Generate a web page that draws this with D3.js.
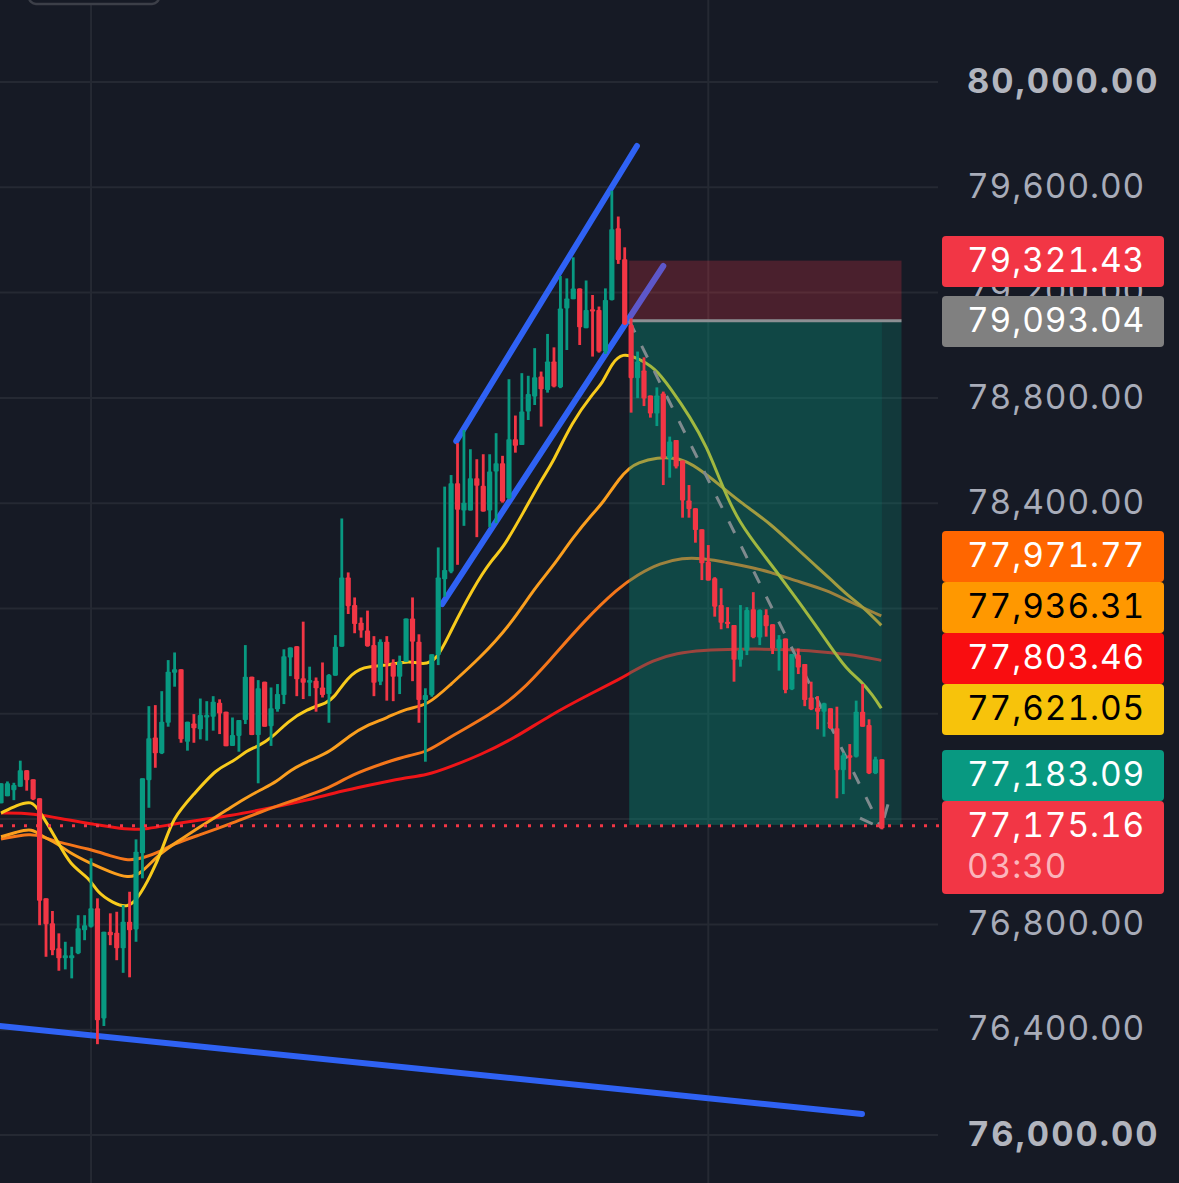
<!DOCTYPE html>
<html>
<head>
<meta charset="utf-8">
<script src="https://cdn.jsdelivr.net/npm/d3@7"></script>
<style>
  html, body { margin: 0; padding: 0; background: #161a25; overflow: hidden; }
  text { font-family: Inter, "Liberation Sans", sans-serif; font-variant-numeric: tabular-nums; }
</style>
</head>
<body>
<div id="chart"></div>
<script>
// Candle data
const opens = [77260,77287,77310,77323,77386,77351,77279,76899,76804,76709,
  76671,76671,76690,76778,76791,76861,76443,76772,76768,76709,
  76810,76781,77070,77348,77510,77450,77566,77756,77769,77494,
  77563,77541,77586,77589,77642,77608,77478,77516,77576,77741,
  77519,77722,77553,77617,77671,77814,77857,77735,77718,77726,
  77700,77675,77745,77855,78118,78013,77946,77916,77861,77722,
  77874,77792,77741,77798,77962,77874,77652,77671,77823,78111,
  78140,78476,78372,78372,78495,78466,78372,78520,78552,78419,
  78643,78621,78748,78805,78881,78830,78938,78840,79140,79175,
  79216,79065,79137,79134,78976,79172,79444,79327,79077,78875,
  78904,78809,78741,78817,78571,78640,78562,78410,78381,78301,
  78178,78115,78013,77950,77937,77805,77840,77997,77890,77975,
  77940,77848,77886,77693,77823,77789,77662,77623,77608,77621,
  77545,77386,77443,77437,77608,77557,77374,77427];
const highs = [77336,77343,77338,77422,77386,77351,77279,76899,76851,76766,
  76734,76715,76835,76835,77051,76899,76772,76842,76848,76873,
  76924,77123,77355,77629,77633,77686,77804,77833,77769,77570,
  77599,77658,77648,77667,77655,77608,77586,77576,77861,77741,
  77728,77722,77700,77713,77845,77852,77857,77950,77779,77738,
  77795,77751,77899,78342,78137,78042,77966,77992,77895,77883,
  77895,77807,77821,77962,78042,77902,77697,77826,78232,78463,
  78507,78628,78678,78605,78567,78586,78586,78666,78580,78871,
  78733,78894,78884,78989,78900,79043,78992,79263,79254,79334,
  79216,79246,79191,79147,79216,79587,79489,79372,79102,78976,
  78954,78809,78840,78824,78653,78640,78562,78469,78381,78301,
  78241,78119,78077,78005,77937,78013,78005,78062,77997,77997,
  77940,77899,77886,77827,77848,77789,77722,77667,77642,77621,
  77627,77452,77485,77650,77713,77579,77437,77427];
const lows = [77260,77287,77272,77323,77308,77272,76797,76677,76683,76624,
  76629,76595,76687,76740,76788,76345,76414,76721,76664,76616,
  76599,76734,76975,77243,77395,77447,77551,77703,77490,77460,
  77490,77503,77498,77536,77523,77477,77478,77456,77561,77519,
  77336,77551,77478,77608,77637,77743,77667,77656,77667,77608,
  77662,77566,77745,77855,77979,77906,77889,77855,77667,77709,
  77650,77648,77675,77798,77724,77566,77418,77665,77785,78045,
  78134,78166,78314,78372,78271,78368,78309,78324,78402,78415,
  78592,78621,78716,78773,78691,78820,78840,78837,78982,79175,
  79001,79065,78957,78972,78967,79170,79309,79077,78744,78799,
  78769,78725,78693,78469,78497,78532,78345,78345,78250,78108,
  78106,77969,77921,77925,77722,77779,77823,77887,77861,77893,
  77827,77764,77678,77690,77751,77629,77614,77541,77513,77542,
  77279,77295,77351,77434,77551,77371,77371,77161];
const closes = [77336,77336,77330,77386,77348,77275,76890,76801,76702,76671,
  76683,76683,76785,76797,76861,76436,76772,76759,76709,76810,
  76778,77076,77355,77507,77450,77570,77760,77769,77503,77570,
  77545,77595,77595,77646,77601,77477,77519,77576,77741,77519,
  77697,77551,77621,77675,77819,77852,77731,77718,77728,77697,
  77671,77747,77855,78118,78009,77941,77916,77857,77718,77874,
  77792,77741,77798,77962,77874,77652,77671,77826,78118,78146,
  78476,78375,78402,78495,78466,78368,78520,78552,78406,78643,
  78618,78748,78815,78878,78833,78938,78843,79140,79178,79216,
  79068,79134,79128,78976,79172,79441,79324,79081,78875,78938,
  78798,78741,78809,78571,78634,78539,78410,78378,78298,78172,
  78106,78007,77946,77941,77805,77842,77994,77891,77994,77933,
  77848,77883,77690,77827,77776,77652,77617,77608,77640,77545,
  77386,77443,77433,77608,77551,77374,77427,77165];

// Moving averages as [bar index, price]
const maYellow = [[0,77223],[2.5,77254],[4.8,77270],[5.9,77235],[8.7,77121],[10.7,77026],[13.8,76976],[14.9,76923],
  [17.4,76881],[19.8,76862],[21.3,76900],[23.2,76980],[25.2,77090],[26.7,77204],[29.9,77292],[33.6,77394],
  [36.1,77417],[38.3,77462],[39.8,77474],[42.3,77512],[44.5,77569],[47.6,77618],[50.7,77641],[51.9,77664],
  [53.8,77736],[56.3,77782],[60,77782],[63.6,77804],[65.6,77785],[67.8,77804],[69.8,77907],[73.4,78078],
  [76.5,78192],[77.9,78222],[81.2,78363],[84.3,78500],[85.8,78553],[88.8,78708],[92.1,78819],[93.6,78857],
  [95,78933],[96.7,78971],[98.9,78952],[101.7,78914],[104,78841],[107.2,78727],[109.8,78613],[111.8,78488],
  [114.6,78329],[119.6,78173],[121.6,78108],[126.9,77930],[128.6,77869],[131.6,77766],[133.6,77728],[135.6,77671],[136.9,77621]];
const maAmber = [[0,77133],[2.5,77151],[4.8,77166],[6.5,77132],[8.7,77109],[10.7,77071],[13.8,77033],[17,76999],
  [19.8,76976],[21.6,76988],[24.7,77071],[27.4,77113],[30.9,77170],[35.6,77242],[37.6,77273],[40.3,77311],
  [42.9,77341],[44.9,77386],[48.1,77424],[51.2,77455],[54.3,77519],[56.9,77557],[60,77584],[63.1,77622],
  [66.3,77630],[69.8,77709],[74.5,77812],[79.2,77937],[83,78078],[85.8,78158],[89,78272],[92.1,78363],
  [93.6,78401],[96.3,78500],[97.8,78534],[98.9,78553],[102,78575],[105.6,78572],[108.2,78537],[111.8,78469],
  [114.9,78405],[119.6,78325],[124.3,78215],[129.2,78108],[131.6,78051],[134.1,78006],[136.9,77936]];
const maOrange = [[0,77124],[4.8,77147],[6.5,77132],[8.7,77113],[13.8,77086],[17,77060],[19.8,77041],[22.1,77052],
  [24.7,77075],[26.7,77105],[30.9,77140],[35.6,77181],[40.3,77227],[45.7,77273],[51.2,77318],[54.3,77367],
  [60,77417],[63.6,77443],[66.3,77455],[69.8,77512],[76,77595],[80.7,77679],[85.4,77804],[90.8,77956],
  [96,78078],[98.9,78127],[102.5,78173],[106.1,78192],[108.7,78192],[113.4,78173],[117,78154],
  [119.6,78139],[123.2,78108],[128.5,78070],[132,78025],[136.9,77972]];
const maRed = [[0,77223],[5,77223],[10.3,77197],[14.3,77181],[19.6,77159],[22.7,77162],[26.7,77181],[30.9,77197],
  [35.6,77212],[41.8,77242],[49.1,77280],[52.3,77303],[57.4,77330],[62.5,77356],[66.3,77367],[69.8,77398],
  [74.5,77443],[79.9,77508],[85.4,77595],[91.6,77675],[96.3,77733],[97.8,77755],[101.4,77804],[105.1,77831],
  [109.2,77842],[113.8,77846],[123.2,77846],[129.4,77831],[133.6,77820],[136.9,77803]];

// Hand drawn trend lines
const trendUpper = [[70.8,78636],[98.9,79757]];
const trendLower = [[68.6,78017],[103,79301]];
const trendBottom = [[-0.2,76414],[133.9,76080]];
const projection = [[97.7,79093],[136.9,77166]];
const projectionHead = [[133.6,77204],[136.9,77166],[138,77261]];

// Position box
const boxStart = 97.7;
const boxFilledEnd = 137;
const boxEnd = 140.05;
const stopPrice = 79321.43;
const entryPrice = 79093.04;
const targetPrice = 77178;

// Right axis and price tags
const tickPrices = [80000,79600,79200,78800,78400,78000,77600,77200,76800,76400,76000];
const boldTicks = [80000,76000];
const gridBars = [14,110];
const tagPrices = [79321.43,79093.04,77971.77,77936.31,77803.46,77621.05,77183.09,77175.16];
const tagColors = ["#f23645","#808080","#ff6600","#ff9800","#f90d10","#f7c30b","#089981","#f23645"];
const tagTextColors = ["#fff","#fff","#fff","#000","#fff","#000","#fff","#fff"];
const lastPrice = 77175.16;
const countdown = "03:30";

const width = 1179;
const height = 1183;

let x = d3.scaleLinear().domain([0, 137]).range([1, 881.9]);
let y = d3.scaleLinear().domain([76000, 80000]).range([1135, 82]);

let svg = d3.select("#chart")
  .append("svg")
  .attr("width", width)
  .attr("height", height)
  .style("display", "block");

svg.append("rect")
  .attr("width", width)
  .attr("height", height)
  .attr("fill", "#161a25");

// Grid
const gridColor = "#252933";
svg.selectAll(".hgrid")
  .data(tickPrices)
  .enter().append("line")
  .attr("x1", 0)
  .attr("x2", 938)
  .attr("y1", d => y(d))
  .attr("y2", d => y(d))
  .attr("stroke", gridColor)
  .attr("stroke-width", 2);

svg.selectAll(".vgrid")
  .data(gridBars)
  .enter().append("line")
  .attr("x1", d => x(d))
  .attr("x2", d => x(d))
  .attr("y1", 0)
  .attr("y2", height)
  .attr("stroke", gridColor)
  .attr("stroke-width", 2);

// Cut off toolbar button at the very top
svg.append("rect")
  .attr("x", 29)
  .attr("y", -30)
  .attr("width", 130)
  .attr("height", 34)
  .attr("rx", 7)
  .attr("fill", "#161a25")
  .attr("stroke", "#3c3f48")
  .attr("stroke-width", 2.5);

// Moving averages
let maLine = d3.line()
  .x(d => x(d[0]))
  .y(d => y(d[1]))
  .curve(d3.curveBasis);

function drawMa(points, color) {
  svg.append("path")
    .attr("d", maLine(points))
    .attr("fill", "none")
    .attr("stroke", color)
    .attr("stroke-width", 3)
    .attr("stroke-linejoin", "round");
}
drawMa(maRed, "#f01518");
drawMa(maOrange, "#f5761a");
drawMa(maAmber, "#fb9f1e");
drawMa(maYellow, "#f8cb1c");

// Trend lines
let straight = d3.line().x(d => x(d[0])).y(d => y(d[1]));

[trendUpper, trendLower, trendBottom].forEach(points => {
  svg.append("path")
    .attr("d", straight(points))
    .attr("fill", "none")
    .attr("stroke", "#2f62f4")
    .attr("stroke-width", 6)
    .attr("stroke-linecap", "round");
});

// Position box sits over the lines, under the candles
svg.append("rect")
  .attr("x", x(boxStart))
  .attr("width", x(boxEnd) - x(boxStart))
  .attr("y", y(stopPrice))
  .attr("height", y(entryPrice) - y(stopPrice))
  .attr("fill", "#f23645")
  .attr("fill-opacity", 0.24);

svg.append("rect")
  .attr("x", x(boxStart))
  .attr("width", x(boxEnd) - x(boxStart))
  .attr("y", y(entryPrice))
  .attr("height", y(targetPrice) - y(entryPrice))
  .attr("fill", "#089981")
  .attr("fill-opacity", 0.25);

svg.append("rect")
  .attr("x", x(boxStart))
  .attr("width", x(boxFilledEnd) - x(boxStart))
  .attr("y", y(entryPrice))
  .attr("height", y(targetPrice) - y(entryPrice))
  .attr("fill", "#089981")
  .attr("fill-opacity", 0.15);

svg.append("line")
  .attr("x1", x(boxStart))
  .attr("x2", x(boxEnd))
  .attr("y1", y(entryPrice))
  .attr("y2", y(entryPrice))
  .attr("stroke", "#8c8f93")
  .attr("stroke-width", 3);

// Projected path with arrow head
svg.append("path")
  .attr("d", straight(projection))
  .attr("fill", "none")
  .attr("stroke", "#7f8a8e")
  .attr("stroke-width", 3)
  .attr("stroke-dasharray", "13 15");

svg.append("path")
  .attr("d", straight(projectionHead))
  .attr("fill", "none")
  .attr("stroke", "#7f8a8e")
  .attr("stroke-width", 3)
  .attr("stroke-dasharray", "14 10 0 10 14");

// Candles
const upColor = "#089981";
const downColor = "#f23645";
const bars = d3.range(opens.length);

svg.selectAll(".wick")
  .data(bars)
  .enter().append("line")
  .attr("x1", i => x(i))
  .attr("x2", i => x(i))
  .attr("y1", i => y(highs[i]))
  .attr("y2", i => y(lows[i]))
  .attr("stroke", i => closes[i] >= opens[i] ? upColor : downColor)
  .attr("stroke-width", 2.8);

svg.selectAll(".body")
  .data(bars)
  .enter().append("rect")
  .attr("x", i => x(i) - 2.6)
  .attr("width", 5.2)
  .attr("y", i => y(Math.max(opens[i], closes[i])))
  .attr("height", i => Math.max(2, Math.abs(y(opens[i]) - y(closes[i]))))
  .attr("rx", 0.8)
  .attr("fill", i => closes[i] >= opens[i] ? upColor : downColor);

// Last price dotted line
svg.append("line")
  .attr("x1", 0)
  .attr("x2", 942)
  .attr("y1", y(lastPrice))
  .attr("y2", y(lastPrice))
  .attr("stroke", "#f23645")
  .attr("stroke-width", 3)
  .attr("stroke-dasharray", "3 9");

// Price axis
let axis = d3.axisRight(y)
  .tickValues(tickPrices)
  .tickSize(0)
  .tickPadding(0)
  .tickFormat(d3.format(",.2f"));

let axisGroup = svg.append("g")
  .attr("transform", "translate(967,-0.5)")
  .call(axis);

axisGroup.select(".domain").remove();

axisGroup.selectAll("text")
  .attr("x", 0)
  .attr("fill", d => boldTicks.includes(d) ? "#b2b5be" : "#a8acb9")
  .attr("font-size", d => boldTicks.includes(d) ? 34.5 : 33.5)
  .attr("font-weight", d => boldTicks.includes(d) ? 700 : 400)
  .attr("letter-spacing", d => boldTicks.includes(d) ? 2 : 0.9)
  .style("font-family", "Inter");

// Price tags, stacked so they do not overlap
const tagTops = [236, 296, 531, 582, 633, 684, 750, 801];
const tagHeights = [51, 51, 51, 51, 51, 51, 51, 93];

let tags = svg.selectAll(".tag")
  .data(tagPrices)
  .enter().append("g");

tags.append("rect")
  .attr("x", 942)
  .attr("width", 222)
  .attr("y", (d, i) => tagTops[i])
  .attr("height", (d, i) => tagHeights[i])
  .attr("rx", 4)
  .attr("fill", (d, i) => tagColors[i]);

tags.append("text")
  .attr("x", 967)
  .attr("y", (d, i) => tagTops[i] + 36)
  .attr("font-size", 33.5)
  .attr("letter-spacing", 0.9)
  .attr("fill", (d, i) => tagTextColors[i])
  .text(d => d3.format(",.2f")(d));

svg.append("text")
  .attr("x", 967)
  .attr("y", 878)
  .attr("font-size", 33.5)
  .attr("letter-spacing", 0.9)
  .attr("fill", "#fbb4bb")
  .text(countdown);
</script>
</body>
</html>
